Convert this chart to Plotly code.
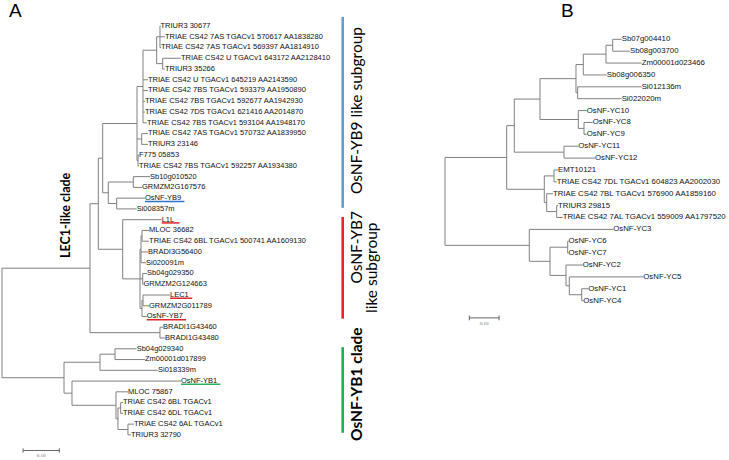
import plotly.graph_objects as go

# ---------------- data: trees (branch lengths in substitutions/site) ----------------
TREE_A = """(
 (
  (
   (
    (
     (
      (('TRIUR3 30677':0.0014,'TRIAE CS42 7AS TGACv1 570617 AA1838280':0.0138,'TRIAE CS42 7AS TGACv1 569397 AA1814910':0.0028):0.0091,
       ('TRIAE CS42 U TGACv1 643172 AA2128410':0.0504,'TRIUR3 35266':0.0063):0.0165):0.0377,
      'TRIAE CS42 U TGACv1 645219 AA2143590':0.0138,
      'TRIAE CS42 7BS TGACv1 593379 AA1950890':0.0138,
      'TRIAE CS42 7BS TGACv1 592677 AA1942930':0.0055,
      'TRIAE CS42 7DS TGACv1 621416 AA2014870':0.0055,
      'TRIAE CS42 7BS TGACv1 593104 AA1948170':0.011):0.0165,
     ('TRIAE CS42 7AS TGACv1 570732 AA1839950':0.0173,'TRIUR3 23146':0.0173):0.0129,
     ('F775 05853':0.0028,'TRIAE CS42 7BS TGACv1 592257 AA1934380':0.0028):0.0028):0.0945,
    (('Sb10g010520':0.046,'GRMZM2G167576':0.024):0.0689,
     ('OsNF-YB9':0.078,'Si008357m':0.0551):0.0231):0.0154):0.0121,
   ('L1L':0.1074,
    ((('MLOC 36682':0.0193,'TRIAE CS42 6BL TGACv1 500741 AA1609130':0.0193):0.0028,'BRADI3G56400':0.0193,'Si020091m':0.0138):0.0028,
     ('Sb04g029350':0.0118,'GRMZM2G124663':0.0022):0.0074,
     (('LEC1':0.0744,'GRMZM2G011789':0.0165):0.0028,'OsNF-YB7':0.0129):0.0055):0.0477):0.0672):0.0229,
  ('BRADI1G43460':0.0083,'BRADI1G43480':0.0138):0.1928):0.2424,
 (
  (('Sb04g029340':0.0597,'Zm00001d017899':0.0826):0.0413,'Si018339m':0.1598):0.0992,
  ('OsNF-YB1':0.3003,
   ('MLOC 75867':0.0331,
    (('TRIAE CS42 6BL TGACv1':0.0063,'TRIAE CS42 6DL TGACv1':0.0063):0.0074,
     ('TRIAE CS42 6AL TGACv1':0.0165,'TRIUR3 32790':0.0083):0.0275):0.0055):0.1212):0.022):0.1708);"""

TREE_B = """(
 (
  (
   (
    (
     ((('Sb07g004410':0.0303,'Sb08g003700':0.0582):0.0226,'Zm00001d023466':0.1202):0.0764,'Sb08g006350':0.0788):0.0246,
     ('Si012136m':0.2155,'Si022020m':0.1481):0.0057):0.1212,
    ('OsNF-YC10':0.0283,('OsNF-YC8':0.0293,'OsNF-YC9':0.0091):0.0192):0.129):0.0865,
   ('OsNF-YC11':0.0481,'OsNF-YC12':0.1044):0.1673):0.0256,
  (('EMT10121':0.0135,'TRIAE CS42 7DL TGACv1 604823 AA2002030':0.0091):0.0327,
   ('TRIAE CS42 7BL TGACv1 576900 AA1859160':0.0212,('TRIUR3 29815':0.0044,'TRIAE CS42 7AL TGACv1 559009 AA1797520':0.0202):0.0337):0.0081):0.1266):0.2077,
 ('OsNF-YC3':0.2828,
  (('OsNF-YC6':0.0027,'OsNF-YC7':0.0027):0.0596,
   ('OsNF-YC2':0.0562,('OsNF-YC5':0.2492,('OsNF-YC1':0.0222,'OsNF-YC4':0.0054):0.0418):0.0111):0.0539):0.0697):0.2838);"""

SCALE_BAR_LEN = 0.10
SCALE_BAR_LABEL = "0.10"

UNDERLINED = {"OsNF-YB9": "#2f72c9", "L1L": "#e0262b", "LEC1": "#e0262b",
              "OsNF-YB7": "#e0262b", "OsNF-YB1": "#2db35a"}

# clade bars: (first leaf, last leaf, colour)
CLADE_BARS = [("TRIUR3 30677", "Si008357m", "#5b9bd5"),
              ("L1L", "OsNF-YB7", "#ee1c24"),
              ("Sb04g029340", "TRIUR3 32790", "#1aaa4a")]

# ---------------- layout constants (pixels) ----------------
W, H = 729, 460
SPLIT = 0.6
A_ROOT_PX, A_PPU, A_TOP, A_STEP = 2.0, 363.0, 26.0, 10.76
B_ROOT_PX, B_PPU, B_TOP, B_STEP = 445.0, 297.0, 39.3, 11.88
LINE_COL = "#808080"
LEAF_FONT_A = dict(family="Liberation Sans, Arial", size=7.5, color="#111")
LEAF_FONT_B = dict(family="Liberation Sans, Arial", size=7.8, color="#111")


def parse_newick(s):
    i = 0
    n = len(s)

    def skip():
        nonlocal i
        while i < n and s[i] in " \n\t\r":
            i += 1

    def node():
        nonlocal i
        skip()
        kids = []
        if s[i] == "(":
            i += 1
            while True:
                kids.append(node())
                skip()
                if s[i] == ",":
                    i += 1
                    continue
                i += 1
                break
        skip()
        name = None
        if i < n and s[i] == "'":
            j = s.index("'", i + 1)
            name = s[i + 1:j]
            i = j + 1
        skip()
        length = 0.0
        if i < n and s[i] == ":":
            i += 1
            j = i
            while i < n and s[i] not in ",();":
                i += 1
            length = float(s[j:i])
        return {"name": name, "kids": kids, "len": length}

    return node()


def layout_tree(root):
    leaves = []

    def walk(nd, x):
        nd["x"] = x
        if not nd["kids"]:
            nd["y"] = len(leaves)
            leaves.append(nd)
            return
        for k in nd["kids"]:
            walk(k, x + k["len"])
        nd["y"] = (nd["kids"][0]["y"] + nd["kids"][-1]["y"]) / 2

    walk(root, 0.0)
    xs, ys = [], []

    def segs(nd):
        if not nd["kids"]:
            return
        xs.extend([nd["x"], nd["x"], None])
        ys.extend([nd["kids"][0]["y"], nd["kids"][-1]["y"], None])
        for k in nd["kids"]:
            xs.extend([nd["x"], k["x"], None])
            ys.extend([k["y"], k["y"], None])
            segs(k)

    segs(root)
    return leaves, xs, ys


fig = go.Figure()

treeA = parse_newick(TREE_A)
leavesA, xa, ya = layout_tree(treeA)
treeB = parse_newick(TREE_B)
leavesB, xb, yb = layout_tree(treeB)

for (xs, ys, ax) in [(xa, ya, ("x", "y")), (xb, yb, ("x2", "y2"))]:
    fig.add_trace(go.Scatter(x=xs, y=ys, mode="lines", xaxis=ax[0], yaxis=ax[1],
                             line=dict(color=LINE_COL, width=1), hoverinfo="skip",
                             showlegend=False))

for leaves, ax, fnt in [(leavesA, ("x", "y"), LEAF_FONT_A), (leavesB, ("x2", "y2"), LEAF_FONT_B)]:
    fig.add_trace(go.Scatter(x=[l["x"] for l in leaves], y=[l["y"] for l in leaves],
                             text=[l["name"] for l in leaves], mode="text",
                             textposition="middle right", textfont=fnt,
                             xaxis=ax[0], yaxis=ax[1], cliponaxis=False,
                             hoverinfo="skip", showlegend=False))

# underlines under highlighted names
idxA = {l["name"]: l for l in leavesA}
for name, col in UNDERLINED.items():
    lf = idxA[name]
    w = (4.3 * len(name) + 5) / A_PPU
    fig.add_trace(go.Scatter(x=[lf["x"], lf["x"] + w], y=[lf["y"] + 0.3, lf["y"] + 0.3],
                             mode="lines", line=dict(color=col, width=1.5),
                             hoverinfo="skip", showlegend=False))

# scale bars
def scale_bar(x0, y, ax, tick):
    x1 = x0 + SCALE_BAR_LEN
    fig.add_trace(go.Scatter(x=[x0, x1, None, x0, x0, None, x1, x1],
                             y=[y, y, None, y - tick, y + tick, None, y - tick, y + tick],
                             mode="lines", line=dict(color="#666", width=1),
                             xaxis=ax[0], yaxis=ax[1], hoverinfo="skip", showlegend=False))
    fig.add_trace(go.Scatter(x=[(x0 + x1) / 2], y=[y + 0.5], text=[SCALE_BAR_LABEL],
                             mode="text", textfont=dict(size=5, color="#666",
                                                        family="Liberation Serif"),
                             xaxis=ax[0], yaxis=ax[1], cliponaxis=False,
                             hoverinfo="skip", showlegend=False))

scale_bar(0.058, len(leavesA) + 0.45, ("x", "y"), 0.2)
scale_bar(0.082, len(leavesB) + 0.45, ("x2", "y2"), 0.2)

# clade bars
name_idx = {l["name"]: l["y"] for l in leavesA}
pads = [(-0.85, -0.1), (-0.25, 0.2), (-0.15, -0.2)]
for (a, b, col), (p0, p1) in zip(CLADE_BARS, pads):
    fig.add_shape(type="line", xref="paper", yref="y", x0=342.7 / W, x1=342.7 / W,
                  y0=name_idx[a] + p0, y1=name_idx[b] + p1,
                  line=dict(color=col, width=2.5))

def ann(text, px, py, size, bold=False, angle=0, family="Lato"):
    fig.add_annotation(text=f"<b>{text}</b>" if bold else text, x=px / W, y=1 - py / H,
                       xref="paper", yref="paper", showarrow=False, textangle=angle,
                       xanchor="center", yanchor="middle",
                       font=dict(family=family, size=size, color="#000"))

ann("OsNF-YB9 like subgroup", 356, 111, 15.5, angle=-90)
ann("OsNF-YB7", 356, 247.5, 15.5, angle=-90)
ann("like subgroup", 371, 268, 15.5, angle=-90)
ann("OsNF-YB1 clade", 356, 384, 15.5, bold=True, angle=-90)
ann("LEC1-like clade", 65, 215, 12.5, bold=True, angle=-90)
ann("A", 16, 11, 19, family="Liberation Sans")
ann("B", 567, 11, 19, family="Liberation Sans")

wA = SPLIT * W
fig.update_layout(
    width=W, height=H, margin=dict(l=0, r=0, t=0, b=0),
    paper_bgcolor="white", plot_bgcolor="white",
    xaxis=dict(domain=[0, SPLIT], range=[-A_ROOT_PX / A_PPU, (wA - A_ROOT_PX) / A_PPU],
               visible=False),
    yaxis=dict(domain=[0, 1], range=[(H - A_TOP) / A_STEP, -A_TOP / A_STEP], visible=False),
    xaxis2=dict(domain=[SPLIT, 1], anchor="y2",
                range=[(wA - B_ROOT_PX) / B_PPU, (W - B_ROOT_PX) / B_PPU], visible=False),
    yaxis2=dict(domain=[0, 1], anchor="x2",
                range=[(H - B_TOP) / B_STEP, -B_TOP / B_STEP], visible=False),
)

fig.write_html("out.html", config={"displayModeBar": False},
               post_script="document.body.style.margin='0';document.body.style.overflow='hidden';")
